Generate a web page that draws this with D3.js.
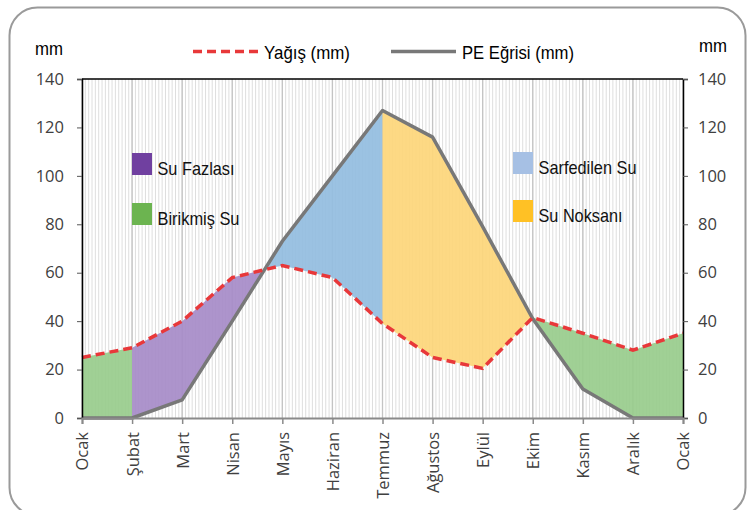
<!DOCTYPE html>
<html>
<head>
<meta charset="utf-8">
<script src="https://cdn.jsdelivr.net/npm/d3@7"></script>
<style>
  body { margin: 0; background: #fff; }
  svg text { font-family: "Liberation Sans", Arial, sans-serif; }
</style>
</head>
<body>
<div id="container"></div>
<script>
var months = ["Ocak", "Şubat", "Mart", "Nisan", "Mayıs", "Haziran", "Temmuz",
              "Ağustos", "Eylül", "Ekim", "Kasım", "Aralık", "Ocak"];
var yagis = [25, 29, 40, 58, 63, 58, 39, 25, 20.5, 41.5, 35, 28, 35];
var pe    = [0, 0, 7.5, 40, 73, 100, 127, 116, 79, 41, 12, 0, 0];
var yTicks = [0, 20, 40, 60, 80, 100, 120, 140];

var colors = {
  fazla:    {fill: "#a68bc8", swatch: "#7040a0", label: "Su Fazlası"},
  birikmis: {fill: "#98cc8c", swatch: "#6cb450", label: "Birikmiş Su"},
  sarf:     {fill: "#92bde0", swatch: "#a6c0e4", label: "Sarfedilen Su"},
  noksan:   {fill: "#fdd679", swatch: "#ffc125", label: "Su Noksanı"}
};

var W = 748, H = 510;
var plotLeft = 82, plotRight = 683, plotTop = 79, plotBottom = 418;

var svg = d3.select("#container").append("svg")
            .attr("width", W).attr("height", H);

// outer frame
svg.append("rect")
   .attr("x", 9.5).attr("y", 7.5).attr("width", 736).attr("height", 508)
   .attr("rx", 28).attr("ry", 28)
   .attr("fill", "#fff").attr("stroke", "#9a9a9a").attr("stroke-width", 2);

var x = d3.scaleLinear().domain([0, months.length - 1]).range([plotLeft, plotRight]);
var y = d3.scaleLinear().domain([0, 140]).range([plotBottom, plotTop]);

// minor stripes + month grid
var grid = svg.append("g");
grid.selectAll("line.minor")
    .data(d3.range(0, (months.length - 1) * 15 + 1).map(function(k){ return k / 15; }))
    .enter().append("line")
    .attr("x1", function(d){ return x(d); }).attr("x2", function(d){ return x(d); })
    .attr("y1", plotTop).attr("y2", plotBottom)
    .attr("stroke", "#dedede").attr("stroke-width", 1);
grid.selectAll("line.major")
    .data(d3.range(months.length))
    .enter().append("line")
    .attr("x1", function(d){ return x(d); }).attr("x2", function(d){ return x(d); })
    .attr("y1", plotTop).attr("y2", plotBottom)
    .attr("stroke", "#c4c4c4").attr("stroke-width", 1.3);

// build points incl. crossings
var pts = [];
for (var i = 0; i < months.length; i++) {
  pts.push({t: i, p: yagis[i], e: pe[i]});
  if (i < months.length - 1) {
    var d0 = yagis[i] - pe[i], d1 = yagis[i + 1] - pe[i + 1];
    if (d0 * d1 < 0) {
      var f = d0 / (d0 - d1);
      var v = yagis[i] + f * (yagis[i + 1] - yagis[i]);
      pts.push({t: i + f, p: v, e: v});
    }
  }
}

function zoneOf(a, b) {
  var mid = (a.t + b.t) / 2;
  var wet = (a.p - a.e) + (b.p - b.e) > 0;
  if (wet) return (mid < 1 || mid > 6) ? "birikmis" : "fazla";
  return mid < 6 ? "sarf" : "noksan";
}

var runs = [];
for (var j = 0; j < pts.length - 1; j++) {
  var z = zoneOf(pts[j], pts[j + 1]);
  var last = runs[runs.length - 1];
  if (last && last.zone === z) last.pts.push(pts[j + 1]);
  else runs.push({zone: z, pts: [pts[j], pts[j + 1]]});
}

var area = d3.area()
  .x(function(d){ return x(d.t); })
  .y0(function(d){ return y(d.e); })
  .y1(function(d){ return y(d.p); });

svg.append("g").selectAll("path")
   .data(runs).enter().append("path")
   .attr("d", function(d){ return area(d.pts); })
   .attr("fill", function(d){ return colors[d.zone].fill; })
   .attr("fill-opacity", 0.92);

var line = d3.line().x(function(d, i){ return x(i); }).y(function(d){ return y(d); });

svg.append("path").datum(pe)
   .attr("d", line).attr("fill", "none")
   .attr("stroke", "#787878").attr("stroke-width", 3.5)
   .attr("stroke-linejoin", "round");

svg.append("path").datum(yagis)
   .attr("d", line).attr("fill", "none")
   .attr("stroke", "#e8383a").attr("stroke-width", 3.5)
   .attr("stroke-dasharray", "9,5");

// axes
var tickFont = "'Open Sans', sans-serif";
var yl = svg.append("g").attr("transform", "translate(" + plotLeft + ",0)")
  .call(d3.axisLeft(y).tickValues(yTicks).tickSize(5).tickPadding(13));
var yr = svg.append("g").attr("transform", "translate(" + plotRight + ",0)")
  .call(d3.axisRight(y).tickValues(yTicks).tickSize(5).tickPadding(10));
[yl, yr].forEach(function(g){
  g.select(".domain").attr("stroke", "#000").attr("stroke-width", 1.5);
  g.selectAll(".tick line").attr("stroke", "#555");
  g.selectAll("text").style("font-family", tickFont).attr("font-size", 16.5).attr("fill", "#404040");
});

var xa = svg.append("g").attr("transform", "translate(0," + plotBottom + ")")
  .call(d3.axisBottom(x).tickValues(d3.range(months.length))
        .tickFormat(function(d){ return months[d]; }).tickSize(6));
xa.select(".domain").attr("stroke", "#8a8a8a").attr("stroke-width", 2);
xa.selectAll(".tick line").attr("stroke", "#8a8a8a").attr("stroke-width", 1.5);
xa.selectAll("text")
  .style("font-family", tickFont).attr("font-size", 16.5).attr("fill", "#404040")
  .attr("text-anchor", "end")
  .attr("transform", "rotate(-90)")
  .attr("x", -14).attr("y", 0).attr("dy", "0.36em");

// top border of plot
svg.append("line").attr("x1", plotLeft).attr("x2", plotRight).attr("y1", plotTop).attr("y2", plotTop)
   .attr("stroke", "#000").attr("stroke-width", 1.5);

// unit labels
svg.append("text").attr("x", 35).attr("y", 55).attr("font-size", 18)
   .attr("textLength", 28).attr("lengthAdjust", "spacingAndGlyphs").text("mm");
svg.append("text").attr("x", 699).attr("y", 52).attr("font-size", 18)
   .attr("textLength", 28).attr("lengthAdjust", "spacingAndGlyphs").text("mm");

// top legend
svg.append("line").attr("x1", 193).attr("x2", 259).attr("y1", 51.5).attr("y2", 51.5)
   .attr("stroke", "#e8383a").attr("stroke-width", 3.5).attr("stroke-dasharray", "9,5");
svg.append("text").attr("x", 264).attr("y", 59).attr("font-size", 19)
   .attr("textLength", 86).attr("lengthAdjust", "spacingAndGlyphs").text("Yağış (mm)");
svg.append("line").attr("x1", 391).attr("x2", 456).attr("y1", 51.5).attr("y2", 51.5)
   .attr("stroke", "#787878").attr("stroke-width", 3.5);
svg.append("text").attr("x", 462).attr("y", 59).attr("font-size", 19)
   .attr("textLength", 112).attr("lengthAdjust", "spacingAndGlyphs").text("PE Eğrisi (mm)");

// inner legend
var inner = [
  {key: "fazla", x: 132, y: 153, w: 77},
  {key: "birikmis", x: 132, y: 203, w: 82},
  {key: "sarf", x: 513, y: 152, w: 98},
  {key: "noksan", x: 513, y: 200, w: 84}
];
var lg = svg.append("g").selectAll("g").data(inner).enter().append("g");
lg.append("rect")
  .attr("x", function(d){ return d.x; }).attr("y", function(d){ return d.y; })
  .attr("width", 20).attr("height", 22)
  .attr("fill", function(d){ return colors[d.key].swatch; });
lg.append("text")
  .attr("x", function(d){ return d.x + 25.5; }).attr("y", function(d){ return d.y + 21.5; })
  .attr("font-size", 18.5)
  .attr("textLength", function(d){ return d.w; }).attr("lengthAdjust", "spacingAndGlyphs")
  .attr("fill", "#111")
  .text(function(d){ return colors[d.key].label; });
</script>
</body>
</html>
